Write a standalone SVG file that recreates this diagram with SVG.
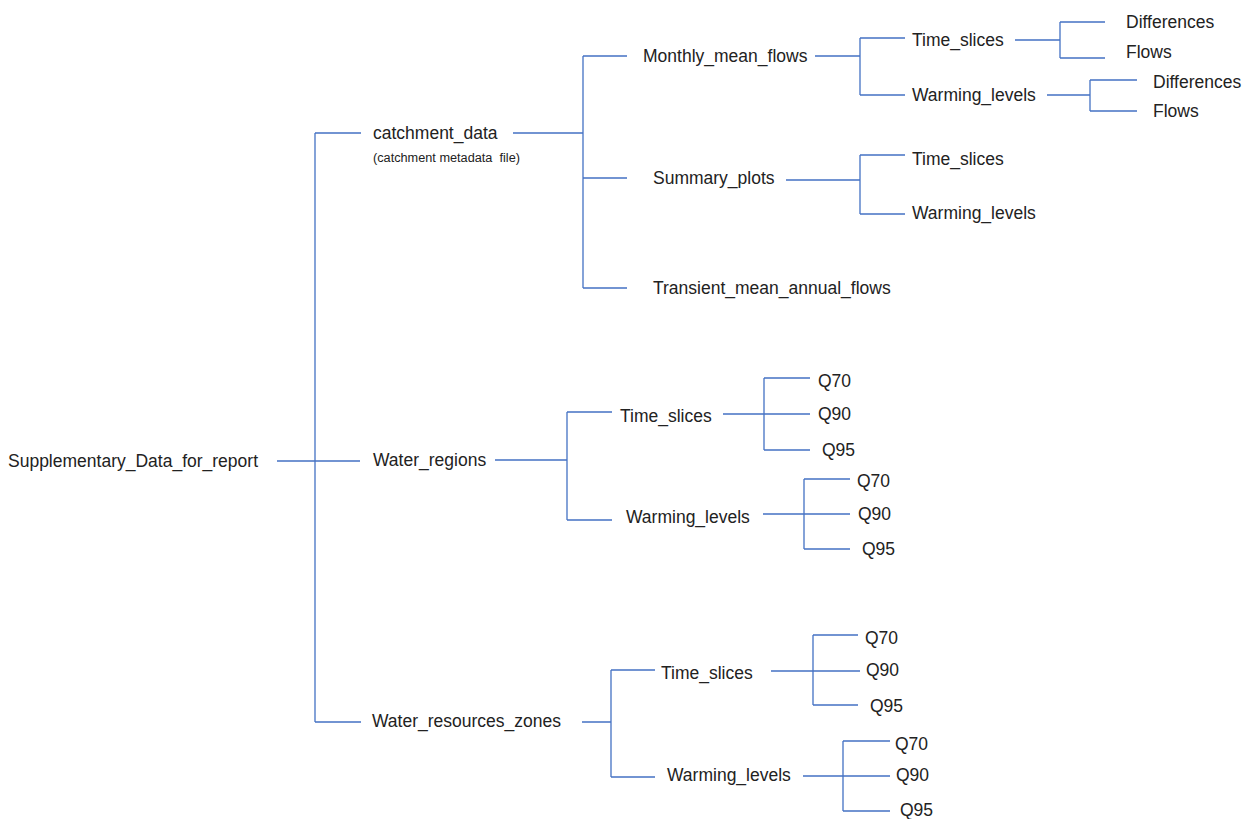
<svg xmlns="http://www.w3.org/2000/svg" width="1252" height="819" viewBox="0 0 1252 819">
<style>
text{font-family:"Liberation Sans",Arial,sans-serif;font-size:17.5px;fill:#222}
.sub{font-size:12px;white-space:pre}
.c path{fill:none;stroke:#4472C4;stroke-width:1.3}
</style>
<rect width="1252" height="819" fill="#fff"/>
<g class="c" id="connectors">
<path d="M277,461 H360 M315,133 V722 M315,133 H361 M315,722 H361"/>
<path d="M513,133 H583 M583,56 V288 M583,56 H627 M583,178 H627 M583,288 H627"/>
<path d="M815,56 H860 M860,38 V95 M860,38 H905 M860,95 H905"/>
<path d="M1015,40 H1060 M1060,22 V58 M1060,22 H1105 M1060,58 H1105"/>
<path d="M1047,95 H1090 M1090,80 V111 M1090,80 H1137 M1090,111 H1137"/>
<path d="M786,180 H860 M860,155 V214 M860,155 H905 M860,214 H905"/>
<path d="M495,460 H567 M567,412 V520 M567,412 H612 M567,520 H612"/>
<path d="M723,414 H810 M764,378 V450 M764,378 H810 M764,450 H810"/>
<path d="M763,514 H850 M804,479 V549 M804,479 H850 M804,549 H850"/>
<path d="M582,722 H611 M611,670 V777 M611,670 H655 M611,777 H655"/>
<path d="M771,671 H860 M813,635 V705 M813,635 H858 M813,705 H858"/>
<path d="M803,776 H890 M843,741 V811 M843,741 H890 M843,811 H890"/>
</g>
<g id="root"><text x="8" y="467">Supplementary_Data_for_report</text></g>
<g id="catchment_data"><text x="373" y="139">catchment_data</text><text class="sub" x="373" y="162" textLength="147" lengthAdjust="spacingAndGlyphs" xml:space="preserve">(catchment metadata  file)</text></g>
<g id="monthly"><text x="643" y="62">Monthly_mean_flows</text></g>
<g id="m_time"><text x="912" y="46">Time_slices</text></g>
<g id="m_time_diff"><text x="1126" y="28">Differences</text></g>
<g id="m_time_flows"><text x="1126" y="58">Flows</text></g>
<g id="m_warm"><text x="912" y="101">Warming_levels</text></g>
<g id="m_warm_diff"><text x="1153" y="88">Differences</text></g>
<g id="m_warm_flows"><text x="1153" y="117">Flows</text></g>
<g id="summary"><text x="653" y="184">Summary_plots</text></g>
<g id="s_time"><text x="912" y="165">Time_slices</text></g>
<g id="s_warm"><text x="912" y="219">Warming_levels</text></g>
<g id="transient"><text x="653" y="294">Transient_mean_annual_flows</text></g>
<g id="water_regions"><text x="373" y="466">Water_regions</text></g>
<g id="wr_time"><text x="620" y="422">Time_slices</text></g>
<g id="wr_time_q70"><text x="818" y="387">Q70</text></g>
<g id="wr_time_q90"><text x="818" y="420">Q90</text></g>
<g id="wr_time_q95"><text x="822" y="456">Q95</text></g>
<g id="wr_warm"><text x="626" y="523">Warming_levels</text></g>
<g id="wr_warm_q70"><text x="857" y="487">Q70</text></g>
<g id="wr_warm_q90"><text x="858" y="520">Q90</text></g>
<g id="wr_warm_q95"><text x="862" y="555">Q95</text></g>
<g id="wrz"><text x="372" y="727">Water_resources_zones</text></g>
<g id="wrz_time"><text x="661" y="679">Time_slices</text></g>
<g id="wrz_time_q70"><text x="865" y="644">Q70</text></g>
<g id="wrz_time_q90"><text x="866" y="676">Q90</text></g>
<g id="wrz_time_q95"><text x="870" y="712">Q95</text></g>
<g id="wrz_warm"><text x="667" y="781">Warming_levels</text></g>
<g id="wrz_warm_q70"><text x="895" y="750">Q70</text></g>
<g id="wrz_warm_q90"><text x="896" y="781">Q90</text></g>
<g id="wrz_warm_q95"><text x="900" y="816">Q95</text></g>
</svg>
